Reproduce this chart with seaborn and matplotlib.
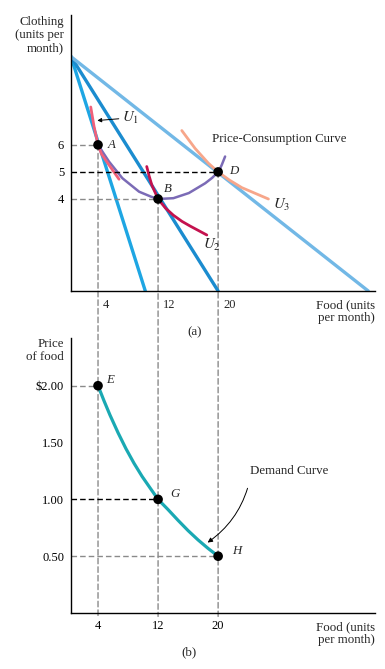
import numpy as np
import pandas as pd
import matplotlib
matplotlib.use("Agg")
import matplotlib.pyplot as plt
import seaborn as sns
from matplotlib.patches import ConnectionPatch

# --- data ---------------------------------------------------------------
# optimum bundles (food, clothing) and food prices
food_opt = [4, 12, 20]
clothing_opt = [6, 4, 5]
price_food = [2.00, 1.00, 0.50]
top_labels = ["A", "B", "D"]
bottom_labels = ["E", "G", "H"]

# budget lines: common clothing intercept, food intercepts (as drawn)
clothing_max = 9.26
budget_food_max = [10.3, 20, 40]
budget_colors = ["#1ea6e3", "#1b8ccf", "#72b8e6"]

# indifference curves
u1_food = [3.03, 3.47, 4.0, 4.45, 5.03, 5.91, 6.8]
u1_cloth = [7.40, 6.68, 6.0, 5.67, 5.43, 5.08, 4.73]
u2_food = [10.49, 10.8, 11.16, 12, 13, 14.04, 15.2, 16.27, 18.49]
u2_cloth = [5.2, 4.86, 4.52, 4.0, 3.66, 3.40, 3.17, 3.0, 2.67]
u3_food = [15.16, 16.93, 18.71, 20, 21.5, 23.16, 26.7]
u3_cloth = [6.53, 5.87, 5.32, 5.0, 4.70, 4.42, 4.0]

# price-consumption curve
pcc_food = [4, 5.47, 7.24, 9.47, 11.03, 12, 14.04, 16.1, 18.27, 19.2, 20, 20.25, 20.5, 20.93]
pcc_cloth = [6, 5.38, 4.77, 4.27, 4.09, 4.0, 4.03, 4.22, 4.58, 4.78, 5.0, 5.12, 5.27, 5.57]

# demand curve
demand_food = [4, 4.8, 5.6, 6.67, 7.73, 8.8, 9.87, 10.93, 12, 13.33, 14.67, 16.0, 17.33, 18.67, 20]
demand_price = [2.0, 1.867, 1.741, 1.586, 1.445, 1.317, 1.202, 1.101, 1.0,
                0.910, 0.815, 0.725, 0.643, 0.568, 0.5]

x_ticks = [4, 12, 20]
y_ticks_top = [4, 5, 6]
y_ticks_bot = [0.5, 1.0, 1.5, 2.0]
y_ticklabels_bot = ["0.50", "1.00", "1.50", "$2.00"]

# --- style --------------------------------------------------------------
sns.set_style("white")
plt.rcParams["font.family"] = ["Liberation Serif", "DejaVu Serif"]
plt.rcParams["mathtext.fontset"] = "stix"
FS = 9.3
TFS = 9.0
LS = 1.1

fig = plt.figure(figsize=(3.85, 6.69), dpi=100)
ax1 = fig.add_axes([71 / 385, 1 - 291 / 669, 304 / 385, 276 / 669])
ax2 = fig.add_axes([71 / 385, 1 - 613 / 669, 304 / 385, 275 / 669])

XL = (0.4, 40.9)
YL1 = (0.6, 10.8)
ax1.set_xlim(*XL)
ax1.set_ylim(*YL1)
ax2.set_xlim(*XL)
ax2.set_ylim(0, 2.42)

dash = (0, (4, 2.2))
grey = "#8a8a8a"

# --- (a) ---------------------------------------------------------------
for fmax, col in zip(budget_food_max, budget_colors):
    sns.lineplot(x=[XL[0], fmax], y=[clothing_max, YL1[0]], ax=ax1, color=col, lw=2.4)

sns.lineplot(x=pcc_food, y=pcc_cloth, ax=ax1, color="#7b6bb6", lw=1.8, sort=False)
sns.lineplot(x=u1_food, y=u1_cloth, ax=ax1, color="#f0607a", lw=2.0)
sns.lineplot(x=u2_food, y=u2_cloth, ax=ax1, color="#c4124e", lw=2.0)
sns.lineplot(x=u3_food, y=u3_cloth, ax=ax1, color="#f7a68a", lw=2.0)

ax1.hlines(6, XL[0], 4, colors=grey, linestyles=dash, lw=1.0)
ax1.hlines(5, XL[0], 20, colors="black", linestyles=dash, lw=1.0)
ax1.hlines(4, XL[0], 12, colors=grey, linestyles=dash, lw=1.0)

sns.scatterplot(x=food_opt, y=clothing_opt, ax=ax1, color="black", s=48,
                edgecolor="none", zorder=5)

offsets_top = [(7, 0), (4, 7), (8, 1)]
for fx, cy, lab, off in zip(food_opt, clothing_opt, top_labels, offsets_top):
    ax1.annotate(lab, (fx, cy), xytext=off, textcoords="offset points",
                 fontsize=FS, style="italic", ha="left", va="center")

ax1.annotate("$U_1$", xy=(3.9, 6.9), xytext=(7.2, 7.0), fontsize=FS + 1.5,
             ha="left", va="center",
             arrowprops=dict(arrowstyle="-|>", color="black", lw=0.7,
                             mutation_scale=6, shrinkA=0, shrinkB=0))
ax1.text(18.0, 2.3, "$U_2$", fontsize=FS + 1.5, ha="left", va="center")
ax1.text(27.3, 3.78, "$U_3$", fontsize=FS + 1.5, ha="left", va="center")
ax1.text(19.2, 6.22, "Price-Consumption Curve", fontsize=FS, ha="left", va="center")

# x tick labels of panel (a) sit just right of the dashed guides
ax1.set_xticks(x_ticks)
ax1.set_xticklabels([])
for v in x_ticks:
    ax1.annotate(str(v), (v, YL1[0]), xytext=(3.5, -6), textcoords="offset points",
                 ha="left", va="top", fontsize=TFS)
ax1.set_yticks(y_ticks_top)
ax1.set_yticklabels([str(v) for v in y_ticks_top], fontsize=TFS)

# --- (b) ---------------------------------------------------------------
sns.lineplot(x=demand_food, y=demand_price, ax=ax2, color="#1aa9b3", lw=2.3)
ax2.hlines(2.0, XL[0], 4, colors=grey, linestyles=dash, lw=1.0)
ax2.hlines(1.0, XL[0], 12, colors="black", linestyles=dash, lw=1.0)
ax2.hlines(0.5, XL[0], 20, colors=grey, linestyles=dash, lw=1.0)
sns.scatterplot(x=food_opt, y=price_food, ax=ax2, color="black", s=48,
                edgecolor="none", zorder=5)

offsets_bot = [(6, 4), (9, 4), (10, 4)]
for fx, p, lab, off in zip(food_opt, price_food, bottom_labels, offsets_bot):
    ax2.annotate(lab, (fx, p), xytext=off, textcoords="offset points",
                 fontsize=FS, style="italic", ha="left", va="center")

ax2.annotate("Demand Curve", xy=(18.6, 0.62), xytext=(24.3, 1.25),
             fontsize=FS, ha="left", va="center",
             arrowprops=dict(arrowstyle="-|>", color="black", lw=0.7,
                             mutation_scale=7, shrinkA=6, shrinkB=0,
                             connectionstyle="arc3,rad=-0.2",
                             relpos=(0.0, 0.0)))

ax2.set_xticks(x_ticks)
ax2.set_xticklabels([str(v) for v in x_ticks], fontsize=TFS)
ax2.set_yticks(y_ticks_bot)
ax2.set_yticklabels(y_ticklabels_bot, fontsize=TFS)

# --- shared cosmetics ---------------------------------------------------
for ax in (ax1, ax2):
    ax.set_facecolor("none")
    ax.set_xlabel("")
    ax.set_ylabel("")
    for s in ("top", "right"):
        ax.spines[s].set_visible(False)
    for s in ("left", "bottom"):
        ax.spines[s].set_color("black")
        ax.spines[s].set_linewidth(1.0)
    ax.tick_params(length=0, pad=5, colors="black")
    ax.annotate("Food (units\nper month)", xy=(1.0, 0), xycoords="axes fraction",
                xytext=(0, -6), textcoords="offset points", ha="right", va="top",
                fontsize=FS, linespacing=LS)

# vertical dashed guides joining the two panels
for fx, cy in zip(food_opt, clothing_opt):
    con = ConnectionPatch(xyA=(fx, cy), coordsA=ax1.transData,
                          xyB=(fx, -0.03), coordsB=ax2.transData,
                          color=grey, lw=1.0, linestyle=dash, zorder=-1)
    fig.add_artist(con)

fig.text(64 / 385, 1 - 16 / 669, "Clothing\n(units per\nmonth)", ha="right", va="top",
         fontsize=FS, linespacing=LS)
fig.text(64 / 385, 1 - 338 / 669, "Price\nof food", ha="right", va="top",
         fontsize=FS, linespacing=LS)
fig.text(195 / 385, 1 - 332 / 669, "(a)", ha="center", va="center", fontsize=FS)
fig.text(189 / 385, 1 - 652 / 669, "(b)", ha="center", va="center", fontsize=FS)

fig.savefig("out.png", dpi=100)
